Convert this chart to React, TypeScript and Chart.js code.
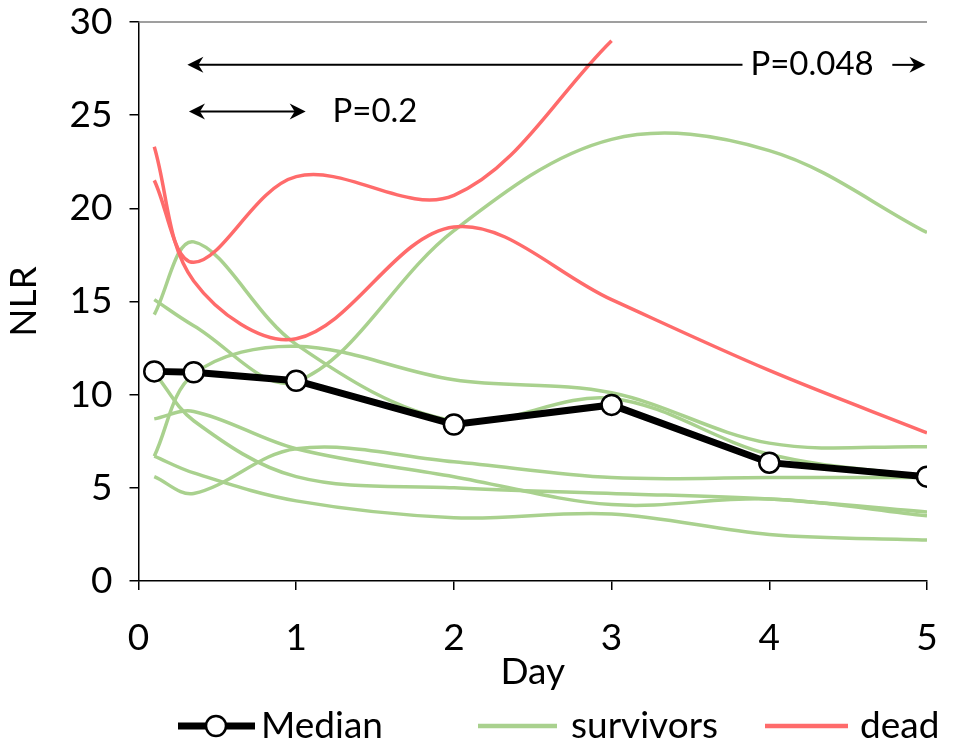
import React, { useEffect, useRef } from 'react';
import { Chart, registerables } from 'chart.js';

Chart.register(...registerables);

const FONT = 'Lato, "Open Sans", "Noto Sans", sans-serif';
const FONT_SIZE = 37;
const NOTE_SIZE = 33;

// ---- data ----
const days = [0.1, 0.35, 1, 2, 3, 4, 5];
const deadDaysShort = [0.1, 0.35, 1, 2, 3];

const medianNLR = [11.25, 11.2, 10.75, 8.4, 9.45, 6.35, 5.6];

const survivorA = [15.1, 13.7, 10.7, 18.8, 23.7, 23.1, 18.7];
const survivorB = [14.3, 18.2, 12.7, 8.6, 9.8, 6.8, 5.6];
const survivorC = [6.7, 11.1, 12.6, 10.8, 10.1, 7.4, 7.2];
const survivorD = [5.6, 4.7, 7.1, 6.4, 5.55, 5.55, 5.55];
const survivorE = [8.7, 9.1, 7.1, 5.6, 4.1, 4.4, 3.5];
const survivorF = [11.2, 8.6, 5.6, 5.0, 4.7, 4.4, 3.7];
const survivorG = [6.7, 5.8, 4.3, 3.4, 3.6, 2.5, 2.2];

const deadA = [21.5, 17.1, 21.7, 20.7, 29.0];
const deadB = [23.3, 16.1, 13.0, 19.0, 15.1, 11.3, 7.95];

const survivorSeries = [survivorA, survivorB, survivorC, survivorD, survivorE, survivorF, survivorG];

const xTickValues = [0, 1, 2, 3, 4, 5];
const yTickValues = [0, 5, 10, 15, 20, 25, 30];

const legendLabels = ['Median', 'survivors', 'dead'];

// annotation values (in data units)
const longArrow = { y: 27.7, from: 0.31, to: 3.83, label: 'P=0.048', labelX: 3.88, tailFrom: 4.78, tailTo: 4.99 };
const shortArrow = { y: 25.2, from: 0.32, to: 1.06, label: 'P=0.2', labelX: 1.23 };

const GREEN = '#A9D18E';
const RED = '#FF6B6B';

function pts(xs: number[], ys: number[]) {
  return ys.map((y, i) => ({ x: xs[i], y }));
}

function arrowHead(ctx: CanvasRenderingContext2D, x: number, y: number, dir: number) {
  const L = 16, W = 8, notch = 5;
  ctx.beginPath();
  ctx.moveTo(x, y);
  ctx.lineTo(x - dir * L, y - W);
  ctx.lineTo(x - dir * (L - notch), y);
  ctx.lineTo(x - dir * L, y + W);
  ctx.closePath();
  ctx.fill();
}

const annotationPlugin = {
  id: 'pAnnotations',
  afterDatasetsDraw(chart: any) {
    const { ctx, scales, chartArea } = chart;
    const xs = scales.x, ys = scales.y;
    ctx.save();
    // top border line
    ctx.strokeStyle = '#7f7f7f';
    ctx.lineWidth = 1.5;
    ctx.beginPath();
    ctx.moveTo(chartArea.left, ys.getPixelForValue(30));
    ctx.lineTo(chartArea.right, ys.getPixelForValue(30));
    ctx.stroke();

    ctx.strokeStyle = '#000';
    ctx.fillStyle = '#000';
    ctx.lineWidth = 2;
    ctx.font = `${NOTE_SIZE}px ${FONT}`;
    ctx.textBaseline = 'middle';
    ctx.textAlign = 'left';

    // long arrow
    let y = ys.getPixelForValue(longArrow.y);
    let x1 = xs.getPixelForValue(longArrow.from);
    let x2 = xs.getPixelForValue(longArrow.to);
    ctx.beginPath();
    ctx.moveTo(x1 + 6, y);
    ctx.lineTo(x2, y);
    ctx.stroke();
    arrowHead(ctx, x1, y, -1);
    ctx.fillText(longArrow.label, xs.getPixelForValue(longArrow.labelX), y);
    const t1 = xs.getPixelForValue(longArrow.tailFrom);
    const t2 = xs.getPixelForValue(longArrow.tailTo);
    ctx.beginPath();
    ctx.moveTo(t1, y);
    ctx.lineTo(t2 - 6, y);
    ctx.stroke();
    arrowHead(ctx, t2, y, 1);

    // short arrow
    y = ys.getPixelForValue(shortArrow.y);
    x1 = xs.getPixelForValue(shortArrow.from);
    x2 = xs.getPixelForValue(shortArrow.to);
    ctx.beginPath();
    ctx.moveTo(x1 + 6, y);
    ctx.lineTo(x2 - 6, y);
    ctx.stroke();
    arrowHead(ctx, x1, y, -1);
    arrowHead(ctx, x2, y, 1);
    ctx.fillText(shortArrow.label, xs.getPixelForValue(shortArrow.labelX), y);
    ctx.restore();
  },
  afterDraw(chart: any) {
    const { ctx } = chart;
    const ly = 726;
    ctx.save();
    ctx.font = `${FONT_SIZE}px ${FONT}`;
    ctx.textBaseline = 'middle';
    ctx.textAlign = 'left';
    ctx.fillStyle = '#000';
    // Median
    ctx.strokeStyle = '#000';
    ctx.lineWidth = 7;
    ctx.beginPath();
    ctx.moveTo(178, ly);
    ctx.lineTo(255, ly);
    ctx.stroke();
    ctx.beginPath();
    ctx.arc(216, ly, 10, 0, Math.PI * 2);
    ctx.fillStyle = '#fff';
    ctx.fill();
    ctx.lineWidth = 2.5;
    ctx.stroke();
    ctx.fillStyle = '#000';
    ctx.fillText(legendLabels[0], 261, ly);
    // survivors
    ctx.strokeStyle = GREEN;
    ctx.lineWidth = 4.5;
    ctx.beginPath();
    ctx.moveTo(478, ly);
    ctx.lineTo(557, ly);
    ctx.stroke();
    ctx.fillText(legendLabels[1], 571, ly);
    // dead
    ctx.strokeStyle = RED;
    ctx.beginPath();
    ctx.moveTo(765, ly);
    ctx.lineTo(848, ly);
    ctx.stroke();
    ctx.fillText(legendLabels[2], 860, ly);
    ctx.restore();
  },
};

export default function App() {
  const ref = useRef<HTMLCanvasElement | null>(null);

  useEffect(() => {
    document.body.style.margin = '0';
    if (!ref.current) return;

    const datasets: any[] = [];
    datasets.push({
      label: 'Median',
      data: pts(days, medianNLR),
      borderColor: '#000',
      borderWidth: 7,
      tension: 0,
      pointRadius: 10,
      pointBackgroundColor: '#fff',
      pointBorderColor: '#000',
      pointBorderWidth: 2.5,
      order: 0,
    });
    datasets.push({
      label: 'dead',
      data: pts(deadDaysShort, deadA),
      borderColor: RED,
      borderWidth: 3.5,
      tension: 0.35,
      pointRadius: 0,
      order: 1,
    });
    datasets.push({
      label: 'dead',
      data: pts(days, deadB),
      borderColor: RED,
      borderWidth: 3.5,
      tension: 0.35,
      pointRadius: 0,
      order: 1,
    });
    survivorSeries.forEach((s) => {
      datasets.push({
        label: 'survivors',
        data: pts(days, s),
        borderColor: GREEN,
        borderWidth: 3.5,
        tension: 0.35,
        pointRadius: 0,
        order: 2,
      });
    });

    const font = { family: FONT, size: FONT_SIZE };
    const chart = new Chart(ref.current, {
      type: 'line',
      data: { datasets },
      plugins: [annotationPlugin],
      options: {
        responsive: false,
        animation: false,
        events: [],
        layout: { padding: { left: 0, right: 26, top: 22, bottom: 56 } },
        plugins: { legend: { display: false }, tooltip: { enabled: false } },
        scales: {
          x: {
            type: 'linear',
            min: 0,
            max: 5,
            afterBuildTicks: (s: any) => { s.ticks = xTickValues.map((v) => ({ value: v })); },
            ticks: { color: '#000', font, padding: 26 },
            grid: { display: true, drawOnChartArea: false, drawTicks: true, tickLength: 9, color: '#000', lineWidth: 1.5 },
            border: { display: true, color: '#000', width: 1.5 },
            title: { display: true, text: 'Day', color: '#000', font, padding: { top: 0, bottom: 0 } },
            afterFit: (s: any) => {
              s.height = 113;
              s.paddingLeft = 0;
              s.paddingRight = 0;
            },
          },
          y: {
            type: 'linear',
            min: 0,
            max: 30,
            afterBuildTicks: (s: any) => { s.ticks = yTickValues.map((v) => ({ value: v })); },
            ticks: { color: '#000', font, padding: 17 },
            grid: { display: true, drawOnChartArea: false, drawTicks: true, tickLength: 9, color: '#000', lineWidth: 1.5 },
            border: { display: true, color: '#000', width: 1.5 },
            title: { display: true, text: 'NLR', color: '#000', font, padding: { top: 2, bottom: 0 } },
            afterFit: (s: any) => {
              s.width = 138.5;
              s.paddingTop = 0;
              s.paddingBottom = 0;
            },
          },
        },
      },
    } as any);
    return () => chart.destroy();
  }, []);

  return (
    <div style={{ width: 953, height: 750 }}>
      <canvas ref={ref} width={953} height={750} style={{ display: 'block' }} />
    </div>
  );
}
